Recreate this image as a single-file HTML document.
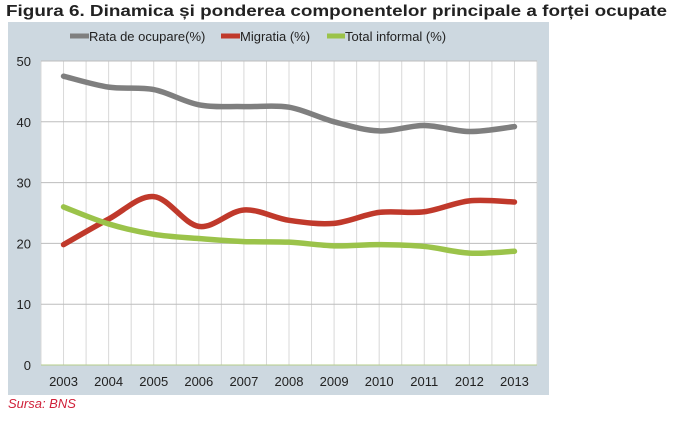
<!DOCTYPE html><html><head><meta charset="utf-8"><style>
body{margin:0;width:680px;height:420px;background:#fff;overflow:hidden;font-family:"Liberation Sans",sans-serif}
</style></head><body>
<svg width="680" height="420" xmlns="http://www.w3.org/2000/svg" font-family="Liberation Sans, sans-serif">
<text x="6" y="16" font-size="15.5" font-weight="bold" fill="#222" textLength="661" lengthAdjust="spacingAndGlyphs">Figura 6. Dinamica și ponderea componentelor principale a forței ocupate</text>
<rect x="8" y="22" width="541" height="373" fill="#cdd8e0"/>
<rect x="41" y="61" width="496" height="304" fill="#fff"/>
<g id="grid" stroke="#d8d8d8" stroke-width="1"></g>
<g font-size="13" fill="#222" id="lab"></g>
<g fill="none" stroke-width="5.5" stroke-linecap="round" id="series"></g>
<g font-size="13" fill="#222">
<line x1="70" y1="36" x2="89" y2="36" stroke="#7f7f7f" stroke-width="5"/><text x="89" y="41">Rata de ocupare(%)</text>
<line x1="221" y1="36" x2="240" y2="36" stroke="#c0392b" stroke-width="5"/><text x="240" y="41">Migratia (%)</text>
<line x1="327" y1="36" x2="345" y2="36" stroke="#9bc34a" stroke-width="5"/><text x="345" y="41">Total informal (%)</text>
</g>
<text x="8" y="408" font-size="13" font-style="italic" fill="#d0213a">Sursa: BNS</text>
</svg>
<script>
const ns="http://www.w3.org/2000/svg",L=41,R=537,T=61,B=365,cw=(R-L)/11;
const X=i=>L+cw*(i+.5),Y=v=>B-(B-T)*v/50;
const g=document.getElementById('grid'),lab=document.getElementById('lab'),s=document.getElementById('series');
function el(p,t,a,txt){const e=document.createElementNS(ns,t);for(const k in a)e.setAttribute(k,a[k]);if(txt)e.textContent=txt;p.appendChild(e);return e;}
for(let i=0;i<=22;i++){const x=L+cw*i/2;el(g,'line',{x1:x,x2:x,y1:T,y2:B});}
for(let v=10;v<=50;v+=10){el(g,'line',{x1:L,x2:R,y1:Y(v),y2:Y(v),stroke:'#bdbdbd'});}
el(g,'line',{x1:L,x2:R,y1:B,y2:B,stroke:'#b5cc8a'});
for(let v=0;v<=50;v+=10)el(lab,'text',{x:31,y:Y(v)+5,'text-anchor':'end'},String(v));
for(let i=0;i<11;i++)el(lab,'text',{x:X(i),y:386,'text-anchor':'middle'},String(2003+i));
const data=[["#7f7f7f",[47.5,45.7,45.3,42.8,42.5,42.4,40,38.5,39.4,38.4,39.2]],
["#c0392b",[19.8,24,27.7,22.8,25.5,23.8,23.3,25.1,25.2,27.0,26.8]],
["#9bc34a",[26,23.2,21.5,20.8,20.3,20.2,19.6,19.8,19.5,18.4,18.7]]];
for(const [c,d] of data){const p=d.map((v,i)=>[X(i),Y(v)]);let path=`M${p[0]}`;
for(let i=0;i<p.length-1;i++){const a=p[Math.max(i-1,0)],b=p[i],q=p[i+1],n=p[Math.min(i+2,p.length-1)];
const c1=[b[0]+(q[0]-a[0])/6,b[1]+(q[1]-a[1])/6],c2=[q[0]-(n[0]-b[0])/6,q[1]-(n[1]-b[1])/6];
path+=` C${c1} ${c2} ${q}`;}
el(s,'path',{d:path,stroke:c});}
</script>
</body></html>
